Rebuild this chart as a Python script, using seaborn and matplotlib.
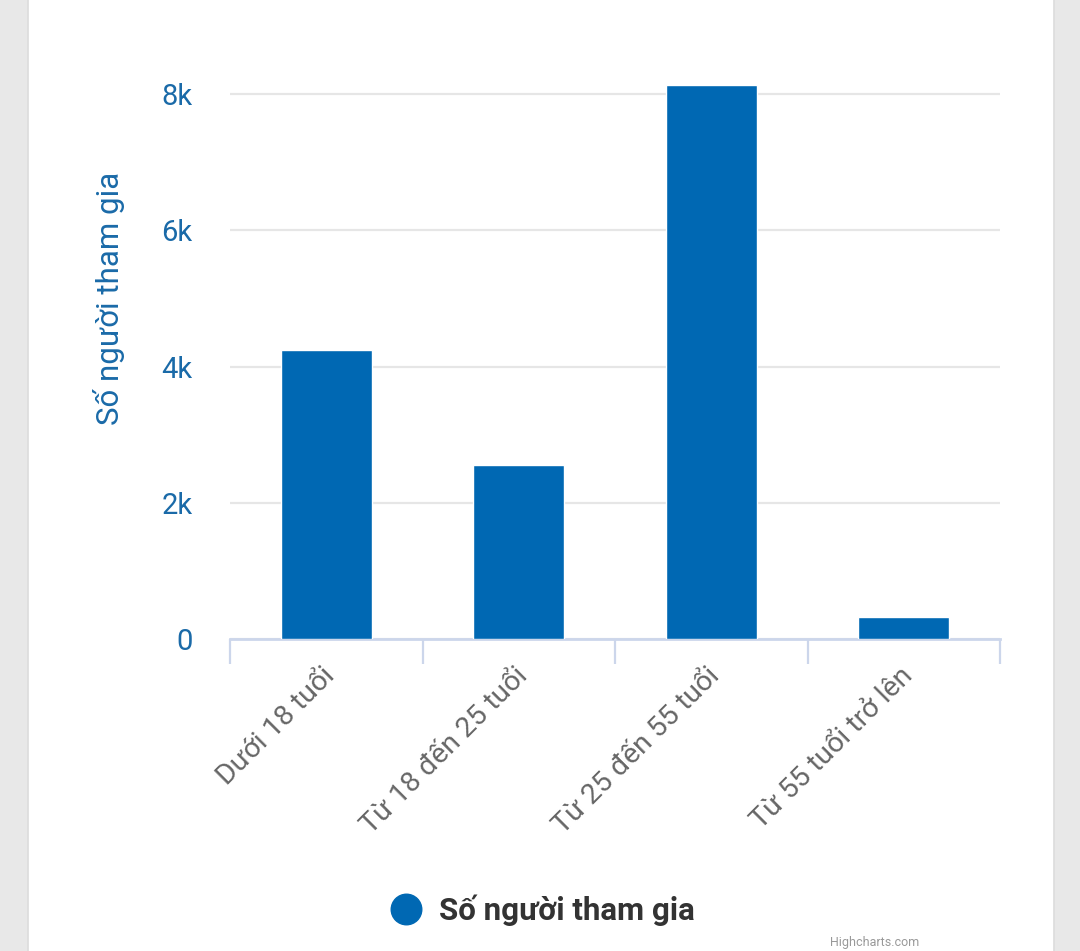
import matplotlib
matplotlib.use("Agg")
import matplotlib.pyplot as plt
import matplotlib.transforms as mtransforms
import seaborn as sns
from matplotlib.lines import Line2D
from matplotlib.patches import Rectangle
from matplotlib.ticker import FuncFormatter, FixedLocator

# data
age_groups = ["Dưới 18 tuổi", "Từ 18 đến 25 tuổi", "Từ 25 đến 55 tuổi", "Từ 55 tuổi trở lên"]
participants = [4240, 2560, 8130, 320]
y_ticks = [0, 2000, 4000, 6000, 8000]
series_name = "Số người tham gia"

BAR_COLOR = "#0068b3"
AXIS_BLUE = "#1a6aa8"


def k_format(v, pos):
    return "0" if v == 0 else f"{int(v / 1000)}k"


def main():
    sns.set_theme(style="white")
    plt.rcParams["font.family"] = ["Roboto", "DejaVu Sans"]

    fig = plt.figure(figsize=(10.8, 9.51), dpi=100)
    fig.patch.set_facecolor("#e8e8e8")
    # white card in the middle of the screenshot
    card = Rectangle((28 / 1080, -0.01), 1026 / 1080, 1.02, transform=fig.transFigure,
                     facecolor="white", edgecolor="#dcdcdc", linewidth=1.2, zorder=-5)
    fig.add_artist(card)

    ax = fig.add_axes([230 / 1080, 312 / 951, 770 / 1080, 559 / 951])
    ax.set_facecolor("none")

    sns.barplot(x=age_groups, y=participants, color=BAR_COLOR, saturation=1,
                width=0.475, ax=ax, zorder=3)

    ax.set_xlim(-0.5, 3.5)
    ax.set_ylim(0, 8210)
    ax.yaxis.set_major_locator(FixedLocator(y_ticks))
    ax.yaxis.set_major_formatter(FuncFormatter(k_format))
    ax.grid(axis="y", color="#e6e6e6", linewidth=1.6, zorder=0)
    ax.set_axisbelow(True)

    for side in ["top", "right", "left"]:
        ax.spines[side].set_visible(False)
    ax.spines["bottom"].set_color("#ccd6eb")
    ax.spines["bottom"].set_linewidth(2)

    # tick marks sit between categories
    ax.set_xticks([-0.5, 0.5, 1.5, 2.5, 3.5], minor=True)
    ax.tick_params(axis="x", which="minor", bottom=True, length=18, width=1.6,
                   color="#ccd6eb", direction="out")
    ax.tick_params(axis="x", which="major", bottom=True, length=0, pad=16,
                   labelsize=20.5, labelcolor="#666666")
    shift = mtransforms.ScaledTranslation(-5 / 100, -1 / 100, fig.dpi_scale_trans)
    for lbl in ax.get_xticklabels():
        lbl.set_rotation(45)
        lbl.set_ha("right")
        lbl.set_rotation_mode("anchor")
        lbl.set_transform(lbl.get_transform() + shift)

    ax.tick_params(axis="y", length=0, pad=27, labelsize=21, labelcolor=AXIS_BLUE)

    ax.set_ylabel(series_name, fontsize=22.5, color=AXIS_BLUE)
    ax.yaxis.set_label_coords(-0.137, 0.61)
    ax.set_xlabel("")

    handle = Line2D([], [], marker="o", linestyle="none", markersize=22,
                    markerfacecolor=BAR_COLOR, markeredgecolor=BAR_COLOR)
    leg = fig.legend([handle], [series_name], loc="center", bbox_to_anchor=(0.502, 0.043),
                     frameon=False, handlelength=1.0, handletextpad=0.55,
                     prop={"size": 22.5, "weight": "bold"})
    for t in leg.get_texts():
        t.set_color("#333333")

    fig.text(830 / 1080, 2 / 951, "Highcharts.com", fontsize=9, color="#999999", va="bottom")

    fig.savefig("out.png", dpi=100, facecolor=fig.get_facecolor())


if __name__ == "__main__":
    main()
